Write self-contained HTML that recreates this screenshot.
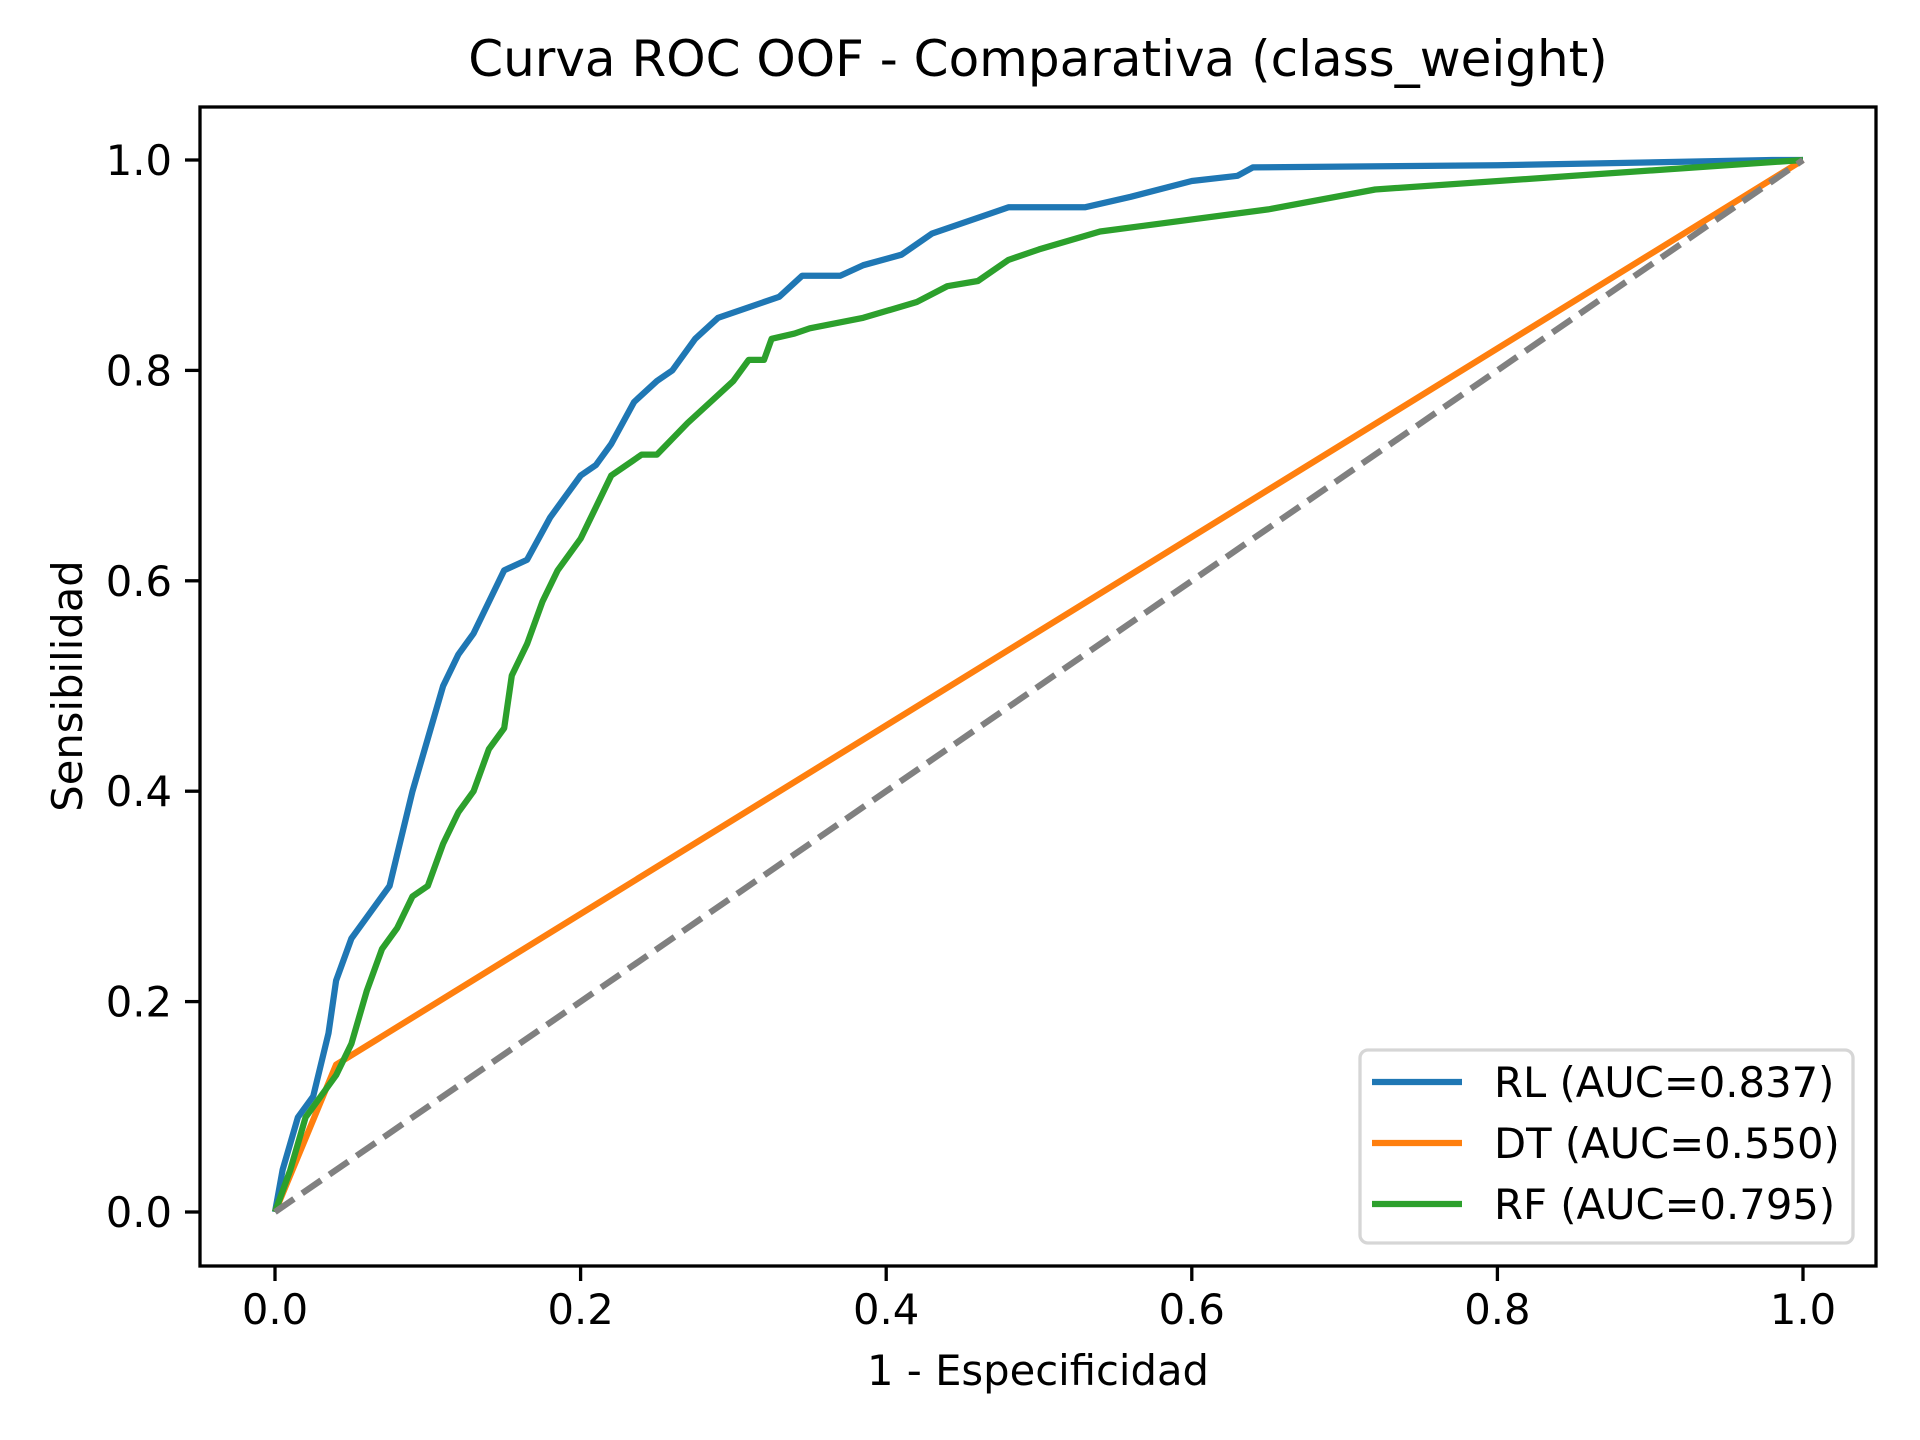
<!DOCTYPE html>
<html><head><meta charset="utf-8"><style>
html,body{margin:0;padding:0;background:#fff;}
svg{display:block;font-family:"DejaVu Sans","Liberation Sans",sans-serif;}
</style></head><body>
<svg id="chart" width="1920" height="1440" viewBox="0 0 1920 1440">
<rect width="1920" height="1440" fill="#fff"/>
<text x="1038" y="76" font-size="50" text-anchor="middle">Curva ROC OOF - Comparativa (class_weight)</text>
<g id="marks"></g>
<rect x="200" y="107" width="1676" height="1159" fill="none" stroke="#000" stroke-width="3.3"/>
<g id="ticks"></g>
<text x="1038" y="1385" font-size="41.7" text-anchor="middle">1 - Especificidad</text>
<text transform="translate(82,686) rotate(-90)" font-size="41.7" text-anchor="middle">Sensibilidad</text>
<g>
<rect x="1360" y="1050" width="493" height="193" rx="8" fill="#fff" fill-opacity="0.8" stroke="#d6d6d6" stroke-width="3.3"/>
<line x1="1372" y1="1082" x2="1462" y2="1082" stroke="#1f77b4" stroke-width="6.25"/>
<text x="1494" y="1097" font-size="41.7">RL (AUC=0.837)</text>
<line x1="1372" y1="1143" x2="1462" y2="1143" stroke="#ff7f0e" stroke-width="6.25"/>
<text x="1494" y="1158" font-size="41.7">DT (AUC=0.550)</text>
<line x1="1372" y1="1204" x2="1462" y2="1204" stroke="#2ca02c" stroke-width="6.25"/>
<text x="1494" y="1219" font-size="41.7">RF (AUC=0.795)</text>
</g>
</svg>
<script>
const xTicks = [0, 0.2, 0.4, 0.6, 0.8, 1.0];
const yTicks = [0, 0.2, 0.4, 0.6, 0.8, 1.0];
const tickLabels = ["0.0", "0.2", "0.4", "0.6", "0.8", "1.0"];
const rlFpr = [0,0.005,0.015,0.025,0.035,0.04,0.05,0.06,0.075,0.08,0.09,0.1,0.11,0.12,0.13,0.14,0.15,0.165,0.18,0.19,0.2,0.21,0.22,0.235,0.25,0.26,0.275,0.29,0.31,0.33,0.345,0.37,0.385,0.41,0.43,0.45,0.47,0.48,0.53,0.56,0.6,0.63,0.64,0.8,0.98,1];
const rlTpr = [0,0.04,0.09,0.11,0.17,0.22,0.26,0.28,0.31,0.34,0.40,0.45,0.50,0.53,0.55,0.58,0.61,0.62,0.66,0.68,0.70,0.71,0.73,0.77,0.79,0.80,0.83,0.85,0.86,0.87,0.89,0.89,0.90,0.91,0.93,0.94,0.95,0.955,0.955,0.965,0.98,0.985,0.993,0.995,1.0,1.0];
const dtFpr = [0, 0.04, 1];
const dtTpr = [0, 0.14, 1];
const rfFpr = [0,0.01,0.02,0.03,0.04,0.05,0.06,0.07,0.08,0.09,0.1,0.11,0.12,0.13,0.14,0.15,0.155,0.165,0.175,0.185,0.2,0.21,0.22,0.24,0.25,0.27,0.285,0.3,0.31,0.32,0.325,0.34,0.35,0.385,0.42,0.44,0.46,0.48,0.5,0.54,0.65,0.72,0.85,1];
const rfTpr = [0,0.04,0.09,0.11,0.13,0.16,0.21,0.25,0.27,0.3,0.31,0.35,0.38,0.4,0.44,0.46,0.51,0.54,0.58,0.61,0.64,0.67,0.7,0.72,0.72,0.75,0.77,0.79,0.81,0.81,0.83,0.835,0.84,0.85,0.865,0.88,0.885,0.905,0.915,0.932,0.953,0.972,0.985,1];
const chanceFpr = [0, 1];
const chanceTpr = [0, 1];

const X0 = 275, X1 = 1803, Y0 = 1212, Y1 = 160;
function sx(v){ return X0 + v * (X1 - X0); }
function sy(v){ return Y0 + v * (Y1 - Y0); }
const NS = "http://www.w3.org/2000/svg";
const marks = document.getElementById('marks');
const ticks = document.getElementById('ticks');

function addLine(xs, ys, color, name, dash){
  const p = document.createElementNS(NS, 'polyline');
  p.setAttribute('points', xs.map((x,i)=>sx(x).toFixed(1)+','+sy(ys[i]).toFixed(1)).join(' '));
  p.setAttribute('fill', 'none');
  p.setAttribute('stroke', color);
  p.setAttribute('stroke-width', '6.25');
  p.setAttribute('stroke-linejoin', 'round');
  if (dash) p.setAttribute('stroke-dasharray', dash);
  
  
  marks.appendChild(p);
}
addLine(rlFpr, rlTpr, '#1f77b4', 'rl-roc-line');
addLine(dtFpr, dtTpr, '#ff7f0e', 'dt-roc-line');
addLine(rfFpr, rfTpr, '#2ca02c', 'rf-roc-line');
addLine(chanceFpr, chanceTpr, '#808080', 'chance-diagonal', '23,10');

xTicks.forEach((v,i)=>{
  const l = document.createElementNS(NS,'line');
  l.setAttribute('x1', sx(v)); l.setAttribute('x2', sx(v));
  l.setAttribute('y1', 1266); l.setAttribute('y2', 1281);
  l.setAttribute('stroke', '#000'); l.setAttribute('stroke-width', '3.3');
  
  
  ticks.appendChild(l);
  const t = document.createElementNS(NS,'text');
  t.setAttribute('x', sx(v)); t.setAttribute('y', 1324);
  t.setAttribute('font-size', '41.7'); t.setAttribute('text-anchor', 'middle');
  t.textContent = tickLabels[i];
  
  
  ticks.appendChild(t);
});
yTicks.forEach((v,i)=>{
  const l = document.createElementNS(NS,'line');
  l.setAttribute('x1', 185); l.setAttribute('x2', 200);
  l.setAttribute('y1', sy(v)); l.setAttribute('y2', sy(v));
  l.setAttribute('stroke', '#000'); l.setAttribute('stroke-width', '3.3');
  
  
  ticks.appendChild(l);
  const t = document.createElementNS(NS,'text');
  t.setAttribute('x', 172); t.setAttribute('y', sy(v) + 15);
  t.setAttribute('font-size', '41.7'); t.setAttribute('text-anchor', 'end');
  t.textContent = tickLabels[i];
  
  
  ticks.appendChild(t);
});
</script>
</body></html>
